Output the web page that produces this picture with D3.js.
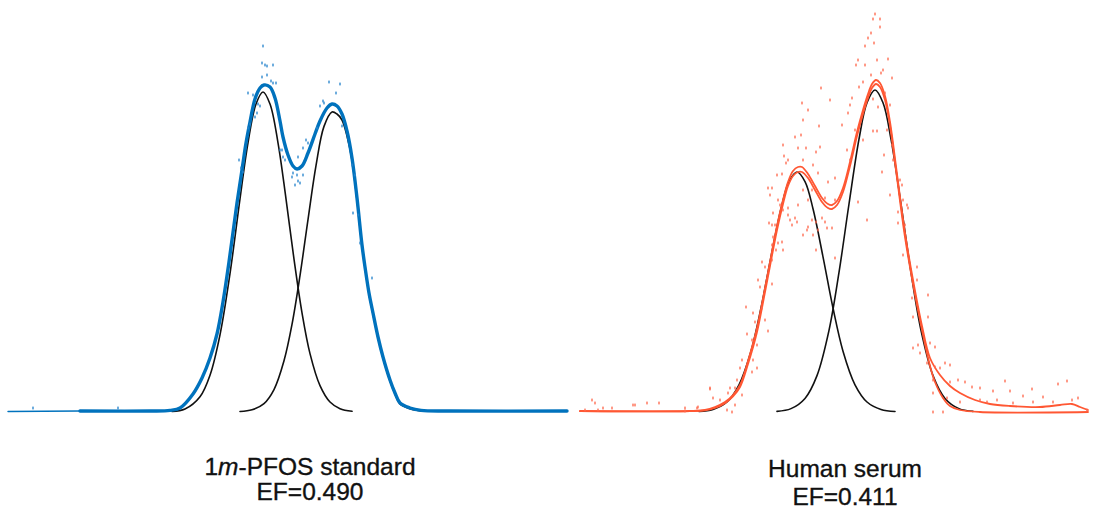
<!DOCTYPE html>
<html>
<head>
<meta charset="utf-8">
<script src="https://cdn.jsdelivr.net/npm/d3@7"></script>
<style>
  html, body { margin: 0; padding: 0; background: #ffffff; }
  svg { display: block; }
</style>
</head>
<body>
<svg id="chart" width="1094" height="512"></svg>
<script>
// ---------------- data (retention time in min, relative intensity) ----------------

// 1m-PFOS standard: measured trace
const stdTrace = [
  [0, 0.13], [3.6, 0.25], [7.1, 0.25], [8.1, 0.4], [8.6, 1.0], [9.25, 4.5], [9.7, 8.5],
  [10.1, 13.5], [10.45, 19.5], [10.75, 27.5], [11.05, 37.5], [11.45, 52.25], [11.7, 60.5],
  [11.9, 67.25], [12.1, 72.5], [12.35, 78.25], [12.6, 81], [12.8, 81.75], [13.1, 81.25],
  [13.35, 78.5], [13.6, 72.75], [13.75, 68.75], [14.0, 64.25], [14.25, 61.5], [14.45, 60.75],
  [14.7, 61.5], [15.0, 64.75], [15.35, 69.5], [15.6, 72.75], [15.95, 76], [16.2, 77],
  [16.45, 76.5], [16.7, 74.5], [16.95, 70.25], [17.2, 63.5], [17.45, 53.5], [17.7, 41.75],
  [17.85, 36.25], [18.05, 29.75], [18.25, 24.75], [18.5, 18.75], [18.75, 13.75], [19.1, 8],
  [19.35, 4.75], [19.6, 2.25], [20.1, 1], [20.65, 0.4], [22.1, 0.25], [27.95, 0.25]
];
// 1m-PFOS standard: fitted enantiomer peaks
const stdPeak1 = [
  [8.2, 0.14], [8.85, 0.74], [9.6, 3.8], [10.1, 9.2], [10.6, 19.3], [11.1, 34.6], [11.6, 53.3],
  [12.0, 67.3], [12.4, 77], [12.75, 80], [13.1, 77], [13.5, 67.3], [13.9, 53.3], [14.3, 38.2],
  [14.7, 24.8], [15.1, 14.6], [15.6, 6.6], [16.1, 2.5], [16.6, 0.84], [17.2, 0.18]
];
const stdPeak2 = [
  [11.6, 0.11], [12.2, 0.55], [12.8, 2.1], [13.3, 5.6], [13.8, 12.8], [14.2, 21.9], [14.6, 34.1],
  [15.0, 48.1], [15.4, 61.6], [15.8, 71.4], [16.2, 75], [16.45, 74.5], [16.7, 73], [16.95, 69],
  [17.2, 63], [17.45, 53], [17.7, 41.5], [17.85, 36], [18.05, 29.5], [18.25, 24.5], [18.5, 18.5],
  [18.75, 13.5], [19.1, 7.75], [19.35, 4.5], [19.6, 2], [20.1, 0.8], [20.7, 0.2]
];
// 1m-PFOS standard: individual scans off the trace
const stdScatter = [
  [12.75, 91.5], [12.7, 87.25], [12.85, 86.75], [12.95, 86.5], [13.25, 86.75], [12.95, 84.25],
  [12.7, 83.75], [13.15, 82.75], [13.25, 82.25], [13.4, 82.25], [12.0, 79.75], [12.25, 79.25],
  [12.5, 77], [12.6, 76.5], [12.45, 74.75], [12.35, 73.75], [12.1, 72], [12.0, 71],
  [16.05, 82.5], [16.6, 82], [16.4, 79.75], [15.75, 77.75], [15.6, 76.5], [15.8, 77.25],
  [15.45, 71], [14.9, 68], [15.0, 67.25], [14.75, 66], [14.5, 63.75], [13.75, 63.75],
  [13.85, 63], [13.6, 65.5], [13.7, 65.5], [14.2, 58.75], [14.45, 59.25], [14.5, 57.75],
  [14.35, 56.75], [14.6, 57.25], [14.75, 59.25], [14.25, 59.75], [16.7, 71.5], [17.2, 61.75],
  [17.35, 59.25], [11.55, 63], [11.65, 61], [11.75, 60], [17.25, 49.75], [17.5, 49.25],
  [17.6, 42.25], [18.2, 33.5], [1.25, 1], [5.5, 1]
];

// Human serum: two smoothed traces
const serumTraceA = [
  [0.1, 0.25], [5.6, 0.25], [6.35, 0.5], [6.85, 1.25], [7.35, 2.5], [7.75, 4.25], [8.1, 6.75],
  [8.5, 12.75], [8.95, 21], [9.35, 31], [9.6, 37.5], [9.95, 46.5], [10.25, 53], [10.5, 57.5],
  [10.75, 60.25], [11.0, 61.25], [11.2, 61.25], [11.5, 59.5], [11.85, 56.5], [12.2, 53.5],
  [12.5, 52], [12.7, 51.75], [12.95, 52.75], [13.25, 56], [13.6, 62.5], [13.95, 70],
  [14.25, 75.5], [14.5, 79.5], [14.7, 82], [14.9, 83], [15.1, 82.25], [15.35, 79], [15.6, 72.5],
  [15.95, 59.5], [16.35, 44.75], [16.75, 33], [17.2, 21.5], [17.6, 13.5], [18.1, 9.25],
  [18.6, 6.5], [19.1, 4.75], [19.85, 3], [20.6, 2], [21.6, 1.5], [23.1, 1.25], [24.1, 1.75],
  [24.7, 2], [25.1, 1.25], [25.5, 0.5]
];
const serumTraceB = [
  [0.1, 0.2], [5.6, 0.2], [6.35, 0.4], [6.85, 1.0], [7.35, 2.2], [7.75, 3.9], [8.1, 6.25],
  [8.5, 12], [8.95, 20], [9.35, 30], [9.6, 36.5], [9.95, 45.5], [10.25, 52], [10.5, 56.5],
  [10.75, 59], [11.0, 60], [11.2, 60], [11.5, 58.5], [11.85, 55.5], [12.2, 52.5], [12.5, 51],
  [12.7, 50.75], [12.95, 51.75], [13.25, 55], [13.6, 61.5], [13.95, 69], [14.25, 74.5],
  [14.5, 78.5], [14.7, 81], [14.9, 82], [15.1, 81.25], [15.35, 78], [15.6, 71.5], [15.95, 58.5],
  [16.35, 43.75], [16.75, 32], [17.2, 20.5], [17.6, 11.5], [17.85, 7.5], [18.25, 3.5],
  [18.6, 1.5], [19.1, 0.5], [20.1, 0], [25.5, 0]
];
// Human serum: fitted enantiomer peaks
const serumPeak1 = [
  [6.05, 0.12], [6.75, 0.62], [7.45, 2.5], [8.05, 6.8], [8.65, 15.2], [9.15, 26], [9.65, 38.8],
  [10.15, 50.8], [10.55, 57.6], [10.95, 60], [11.35, 57.6], [11.75, 50.8], [12.25, 38.8],
  [12.75, 26], [13.25, 15.2], [13.85, 6.8], [14.45, 2.5], [15.15, 0.62], [15.85, 0.12]
];
const serumPeak2 = [
  [9.95, 0.16], [10.65, 0.84], [11.35, 3.4], [11.95, 9.1], [12.55, 20.4], [13.05, 34.9],
  [13.55, 52], [14.05, 68.2], [14.45, 77.3], [14.85, 80.5], [15.25, 77.3], [15.65, 68.2],
  [16.15, 52], [16.65, 34.9], [17.15, 20.4], [17.75, 9.1], [18.35, 3.4], [19.05, 0.84],
  [19.75, 0.16]
];
// Human serum: individual scans
const serumScatter = [
  [14.85, 99.5], [14.75, 98.25], [15.1, 98.25], [15.1, 96.25], [14.65, 94.75], [14.5, 93.5],
  [14.8, 92.25], [14.35, 91.5], [14.0, 88], [13.9, 86.75], [14.35, 86.75], [14.95, 88],
  [15.5, 88.25], [15.25, 85.5], [15.15, 84.75], [15.7, 83.5], [14.65, 84.25], [14.25, 82.5],
  [14.05, 81.25], [13.7, 78.5], [15.35, 79.75], [15.6, 76.75], [13.6, 76.75], [15.0, 76.25],
  [14.75, 78.25], [13.5, 74.75],
  [12.15, 81], [12.6, 78], [11.2, 77.25], [11.5, 75.5], [11.25, 73], [12.05, 71.5],
  [10.85, 68.75], [11.15, 69.25], [10.25, 66.75], [11.0, 66], [11.4, 66], [11.9, 65],
  [12.1, 66.25], [10.3, 64], [10.5, 63], [11.25, 63], [10.2, 59.5], [9.7, 56], [10.0, 53],
  [10.25, 50.5], [10.5, 51], [10.6, 48], [10.85, 48.5], [12.5, 57.5], [12.35, 53.5],
  [13.45, 65.5], [13.2, 71.75], [13.85, 70.5], [13.6, 63], [14.0, 52.5], [14.45, 48],
  [14.25, 68], [14.75, 70.25], [14.95, 70.25], [15.45, 70.5], [15.7, 66.75], [15.75, 63],
  [15.2, 60], [15.3, 64.25], [16.1, 58], [16.2, 56.75], [15.6, 54.25], [16.25, 53], [16.0, 50],
  [16.5, 51], [16.35, 46.75], [9.5, 56], [9.7, 46.75], [9.6, 54.25], [9.75, 49.75],
  [11.5, 46.25], [11.7, 48], [12.0, 45.5], [10.4, 62.25], [9.95, 59.25], [10.1, 51.75],
  [10.5, 49.25], [11.0, 51.75], [10.7, 46.75], [10.95, 47.5], [9.55, 47.25], [9.85, 46.75],
  [9.75, 43.75], [10.0, 42.25], [10.2, 42.5], [9.7, 41.75], [9.9, 40.5], [10.25, 40.5],
  [9.2, 37.5], [9.7, 38], [9.35, 36.25], [11.45, 45.5], [11.25, 44.25], [11.75, 44.25],
  [11.9, 47.5], [12.35, 47.5], [12.45, 46], [12.2, 48.5], [12.85, 38.5], [12.7, 46],
  [11.9, 40.5], [11.5, 53], [11.7, 55.5], [11.25, 55.5], [12.0, 59.75], [11.75, 61.75],
  [12.85, 58.5], [12.85, 53],
  [9.0, 33], [9.1, 31.25], [9.7, 32], [8.4, 26.25], [8.75, 24.75], [8.85, 22.5], [9.2, 26],
  [9.35, 23], [9.5, 20.25], [8.45, 19.5], [8.7, 18], [8.95, 16.75], [8.2, 13], [8.1, 11],
  [8.75, 13], [8.95, 11], [8.7, 10], [7.95, 8], [7.85, 6], [7.6, 6], [6.6, 6], [7.5, 4.75],
  [6.75, 3.5], [7.1, 3], [8.2, 4.25], [7.85, 1.75], [6.0, 1.25], [5.35, 0.25], [7.7, 0],
  [7.45, 0.5],
  [0.7, 3], [0.85, 2.25], [1.25, 1], [1.7, 1], [2.75, 1.75], [2.85, 1.75], [3.45, 2.25],
  [4.05, 2.25], [5.35, 1], [5.95, 1], [6.6, 5.75], [0.35, 0.5], [1.0, 0.5],
  [16.0, 47.25], [16.45, 51.75], [16.25, 39.25], [16.95, 36.25], [16.95, 33], [16.7, 28.5],
  [17.5, 29.25], [17.5, 23.75], [16.75, 23.75], [17.0, 16.75], [16.75, 16], [17.6, 17.25],
  [17.85, 16.25], [17.1, 14.75], [17.45, 12.25], [17.85, 11.25], [18.35, 12.25], [18.6, 11.75],
  [18.1, 11], [17.75, 8], [18.6, 7.5], [19.0, 8], [19.35, 7.5], [19.7, 6.25], [20.1, 6],
  [20.75, 5.25], [21.35, 7.75], [21.6, 5.25], [22.25, 4], [22.7, 5.75], [23.25, 3.75],
  [24.0, 7], [24.45, 7.75], [24.7, 3], [25.0, 3.5], [17.75, 4.75], [18.45, 3.5], [19.1, 2.5],
  [20.1, 3], [20.45, 2.5], [20.95, 3], [21.75, 2.25], [22.75, 2.5], [23.75, 2.5],
  [17.75, 0], [18.25, 0], [25.45, 0.5]
];

// panel labels and enantiomer fractions
const panelTitles = [
  [["1", false], ["m", true], ["-PFOS standard", false]],
  [["Human serum", false]]
];
const efValues = [0.490, 0.411];

// ---------------- drawing ----------------
const svg = d3.select("#chart");
const blue = "#0072bd";
const red = "#ff5733";

const y = d3.scaleLinear().domain([0, 100]).range([412, 12]);
const xStd = d3.scaleLinear().domain([0, 27.95]).range([8, 567]);
const xSerum = d3.scaleLinear().domain([0, 25.5]).range([578, 1088]);

function lineFor(x) {
  return d3.line()
    .x(d => x(d[0]))
    .y(d => y(d[1]))
    .curve(d3.curveCatmullRom.alpha(0.5));
}

function drawCurve(g, x, data, color, width) {
  g.append("path")
    .datum(data)
    .attr("fill", "none")
    .attr("stroke", color)
    .attr("stroke-width", width)
    .attr("stroke-linejoin", "round")
    .attr("stroke-linecap", "round")
    .attr("d", lineFor(x));
}

function drawDots(g, x, data, color) {
  g.selectAll(null)
    .data(data)
    .enter()
    .append("rect")
    .attr("x", d => x(d[0]) - 0.8)
    .attr("y", d => y(d[1]) - 1.4)
    .attr("width", 1.6)
    .attr("height", 2.8)
    .attr("fill", color)
    .attr("opacity", 0.85);
}

function labelText(cx, base) {
  return svg.append("text")
    .attr("x", cx)
    .attr("y", base)
    .attr("text-anchor", "middle")
    .attr("font-family", "'Liberation Sans', Arial, sans-serif")
    .attr("font-size", 24.5)
    .attr("fill", "#111")
    .attr("stroke", "#111")
    .attr("stroke-width", 0.35);
}

function drawLabel(cx, titleBase, efBase, titleParts, ef) {
  const t = labelText(cx, titleBase);
  titleParts.forEach(([txt, italic]) => {
    t.append("tspan").attr("font-style", italic ? "italic" : "normal").text(txt);
  });
  labelText(cx, efBase).text("EF=" + d3.format(".3f")(ef));
}

// left panel: standard
const gStd = svg.append("g");
drawCurve(gStd, xStd, stdPeak1, "#111", 1.6);
drawCurve(gStd, xStd, stdPeak2, "#111", 1.6);
drawCurve(gStd, xStd, stdTrace.filter(d => d[0] <= 3.6), blue, 1.4);
drawCurve(gStd, xStd, stdTrace.filter(d => d[0] >= 3.6), blue, 3.4);
drawDots(gStd, xStd, stdScatter, "#2a86cc");

// right panel: serum
const gSer = svg.append("g");
drawCurve(gSer, xSerum, serumPeak1, "#111", 1.6);
drawCurve(gSer, xSerum, serumPeak2, "#111", 1.6);
drawCurve(gSer, xSerum, serumTraceB, red, 1.8);
drawCurve(gSer, xSerum, serumTraceA, red, 1.8);
drawDots(gSer, xSerum, serumScatter, "#ff6a4d");

drawLabel(310, 475, 500, panelTitles[0], efValues[0]);
drawLabel(845, 477, 505, panelTitles[1], efValues[1]);
</script>
</body>
</html>
